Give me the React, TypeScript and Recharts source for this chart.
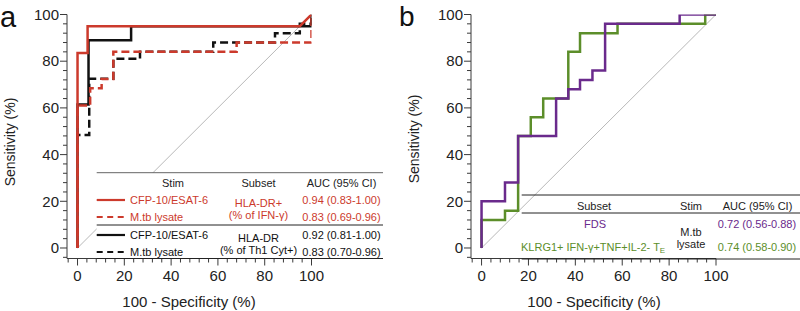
import React from 'react';
import { LineChart, Line, XAxis, YAxis, ReferenceLine } from 'recharts';

// ---------- data ----------
const axisTicks = [-4, 0, 4, 8, 12, 16, 20, 24, 28, 32, 36, 40, 44, 48, 52, 56, 60, 64, 68, 72, 76, 80, 84, 88, 92, 96, 100];
const majorTicks = [0, 20, 40, 60, 80, 100];

// Panel a (100 - specificity, sensitivity)
const aRedSolidX = [0, 0, 4.3, 4.3, 95, 100];
const aRedSolidY = [0, 83.5, 83.5, 95, 95, 100];
const aRedDashX = [0, 0, 5.4, 5.4, 10.3, 10.3, 15.3, 15.3, 68, 68, 100, 100];
const aRedDashY = [0, 61, 61, 68.4, 68.4, 72.4, 72.4, 84, 84, 88, 88, 100];
const aBlackSolidX = [0, 0, 4.7, 4.7, 22.9, 22.9, 100, 100];
const aBlackSolidY = [0, 61.5, 61.5, 89, 89, 95, 95, 100];
const aBlackDashX = [0, 0, 5, 5, 15.3, 15.3, 26.7, 26.7, 58, 58, 84.4, 84.4, 95, 95, 100, 100];
const aBlackDashY = [0, 48.4, 48.4, 72.5, 72.5, 81, 81, 84, 84, 88, 88, 92, 92, 96, 96, 100];

// Panel b
const bPurpleX = [0, 0, 10, 10, 15.6, 15.6, 31.8, 31.8, 37, 37, 42, 42, 47.3, 47.3, 52.7, 52.7, 84.5, 84.5, 100];
const bPurpleY = [0, 20, 20, 28, 28, 48, 48, 64, 64, 68, 68, 72, 72, 76, 76, 96, 96, 100, 100];
const bGreenX = [0, 0, 10, 10, 15.6, 15.6, 21, 21, 26.3, 26.3, 37, 37, 42, 42, 58, 58, 95.4, 95.4, 100];
const bGreenY = [0, 12, 12, 16, 16, 48, 48, 56, 56, 64, 64, 84, 84, 92, 92, 96, 96, 100, 100];

const toPts = (xs: number[], ys: number[]) => xs.map((x, i) => ({ x, y: ys[i] }));

// ---------- styles ----------
const FONT = '"Liberation Sans", Arial, Helvetica, sans-serif';
const AXIS = '#3a3a3a';
const RED = '#cc3a2c';
const BLACK = '#111111';
const PURPLE = '#6a2a8c';
const GREEN = '#5c8e2a';
const DOMAIN: [number, number] = [-4.5, 100];

const XTick = (props: any) => {
  const { x, y, payload } = props;
  const v = payload.value;
  const major = majorTicks.includes(v);
  return (
    <g>
      <line x1={x} y1={y} x2={x} y2={y + (major ? 7 : 4)} stroke={AXIS} strokeWidth={1} />
      {major && (
        <text x={x} y={y + 22} textAnchor="middle" fontSize={15} fill="#222" fontFamily={FONT}>
          {v}
        </text>
      )}
    </g>
  );
};

const YTick = (props: any) => {
  const { x, y, payload } = props;
  const v = payload.value;
  const major = majorTicks.includes(v);
  return (
    <g>
      <line x1={x - (major ? 7 : 4)} y1={y} x2={x} y2={y} stroke={AXIS} strokeWidth={1} />
      {major && (
        <text x={x - 8} y={y + 5.3} textAnchor="end" fontSize={15} fill="#222" fontFamily={FONT}>
          {v}
        </text>
      )}
    </g>
  );
};

function Panel(props: { yAxisWidth: number; right: number; children: React.ReactNode }) {
  return (
    <LineChart
      width={400}
      height={311}
      margin={{ top: 14.5, right: props.right, bottom: 0, left: 0 }}
    >
      <XAxis
        type="number"
        dataKey="x"
        domain={DOMAIN}
        allowDataOverflow
        ticks={axisTicks}
        interval={0}
        tickSize={0}
        tickMargin={0}
        tickLine={false}
        tick={<XTick />}
        height={52.5}
        axisLine={{ stroke: AXIS, strokeWidth: 1 }}
      />
      <YAxis
        type="number"
        dataKey="y"
        domain={DOMAIN}
        allowDataOverflow
        ticks={axisTicks}
        interval={0}
        tickSize={0}
        tickMargin={0}
        tickLine={false}
        tick={<YTick />}
        width={props.yAxisWidth}
        axisLine={{ stroke: AXIS, strokeWidth: 1 }}
      />
      <ReferenceLine
        segment={[{ x: 0, y: 0 }, { x: 100, y: 100 }]}
        stroke="#9a9a9a"
        strokeWidth={0.7}
        ifOverflow="visible"
      />
      {props.children}
    </LineChart>
  );
}

const lineCommon = {
  type: 'linear' as const,
  dataKey: 'y',
  dot: false,
  activeDot: false,
  isAnimationActive: false,
  strokeWidth: 2.5,
  strokeLinejoin: 'miter' as const,
  strokeLinecap: 'butt' as const,
};

export default function App() {
  const txt = { fontFamily: FONT, fontSize: 11 } as const;
  return (
    <div style={{ position: 'absolute', left: 0, top: 0, width: 800, height: 311, background: '#fff', overflow: 'hidden' }}>
      <div style={{ position: 'absolute', left: 0, top: 0 }}>
        <Panel yAxisWidth={67} right={88.5}>
          <Line {...lineCommon} data={toPts(aBlackDashX, aBlackDashY)} stroke={BLACK} strokeDasharray="8 4" />
          <Line {...lineCommon} data={toPts(aBlackSolidX, aBlackSolidY)} stroke={BLACK} />
          <Line {...lineCommon} data={toPts(aRedDashX, aRedDashY)} stroke={RED} strokeDasharray="8 4" />
          <Line {...lineCommon} data={toPts(aRedSolidX, aRedSolidY)} stroke={RED} />
        </Panel>
      </div>
      <div style={{ position: 'absolute', left: 400, top: 0 }}>
        <Panel yAxisWidth={71} right={84}>
          <Line {...lineCommon} data={toPts(bGreenX, bGreenY)} stroke={GREEN} />
          <Line {...lineCommon} data={toPts(bPurpleX, bPurpleY)} stroke={PURPLE} />
        </Panel>
      </div>
      <svg width={800} height={311} style={{ position: 'absolute', left: 0, top: 0, pointerEvents: 'none' }}>
        {/* panel letters */}
        <text x={0} y={27} fontSize={29} fontFamily={FONT} fill="#111">a</text>
        <text x={399} y={26} fontSize={28} fontFamily={FONT} fill="#111">b</text>

        {/* axis titles */}
        <text transform="translate(14.5,142) rotate(-90)" textAnchor="middle" fontSize={14} fontFamily={FONT} fill="#222">Sensitivity (%)</text>
        <text x={189} y={307} textAnchor="middle" fontSize={15} fontFamily={FONT} fill="#222">100 - Specificity (%)</text>
        <text transform="translate(419,139) rotate(-90)" textAnchor="middle" fontSize={14} fontFamily={FONT} fill="#222">Sensitivity (%)</text>
        <text x={594} y={307} textAnchor="middle" fontSize={15} fontFamily={FONT} fill="#222">100 - Specificity (%)</text>

        {/* panel a table */}
        <rect x={96.7} y={173} width={287} height={85} fill="#fff" />
        <line x1={96.7} y1={172.7} x2={383} y2={172.7} stroke="#666" strokeWidth={1} />
        <line x1={96.7} y1={225} x2={383} y2={225} stroke="#222" strokeWidth={1} />
        <line x1={96.7} y1={258.5} x2={383} y2={258.5} stroke="#222" strokeWidth={1} />
        <text {...txt} x={173} y={186.7} textAnchor="middle" fill="#222">Stim</text>
        <text {...txt} x={258.5} y={186.7} textAnchor="middle" fill="#222">Subset</text>
        <text {...txt} x={341.5} y={186.7} textAnchor="middle" fill="#222">AUC (95% CI)</text>

        <line x1={96.7} y1={200} x2={125} y2={200} stroke={RED} strokeWidth={2.2} />
        <text {...txt} x={130} y={204} fill={RED}>CFP-10/ESAT-6</text>
        <text {...txt} x={341.5} y={204} textAnchor="middle" fill={RED}>0.94 (0.83-1.00)</text>
        <line x1={96.7} y1={217} x2={125} y2={217} stroke={RED} strokeWidth={2.2} strokeDasharray="6 4.5" />
        <text {...txt} x={130} y={221.3} fill={RED}>M.tb lysate</text>
        <text {...txt} x={341.5} y={221.3} textAnchor="middle" fill={RED}>0.83 (0.69-0.96)</text>
        <text {...txt} x={258.5} y={206.7} textAnchor="middle" fill={RED}>HLA-DR+</text>
        <text {...txt} x={258.5} y={219} textAnchor="middle" fill={RED}>(% of IFN-γ)</text>

        <line x1={96.7} y1={235} x2={125} y2={235} stroke={BLACK} strokeWidth={2.2} />
        <text {...txt} x={130} y={239} fill="#111">CFP-10/ESAT-6</text>
        <text {...txt} x={341.5} y={239} textAnchor="middle" fill="#111">0.92 (0.81-1.00)</text>
        <line x1={96.7} y1={252} x2={125} y2={252} stroke={BLACK} strokeWidth={2.2} strokeDasharray="6 4.5" />
        <text {...txt} x={130} y={255.7} fill="#111">M.tb lysate</text>
        <text {...txt} x={341.5} y={255.7} textAnchor="middle" fill="#111">0.83 (0.70-0.96)</text>
        <text {...txt} x={258.5} y={241.5} textAnchor="middle" fill="#111">HLA-DR</text>
        <text {...txt} x={258.5} y={253.5} textAnchor="middle" fill="#111">(% of Th1 Cyt+)</text>

        {/* panel b table */}
        <line x1={521.7} y1={195} x2={800} y2={195} stroke="#222" strokeWidth={1} />
        <line x1={521.7} y1={213} x2={800} y2={213} stroke="#222" strokeWidth={1} />
        <line x1={521.7} y1={259} x2={800} y2={259} stroke="#222" strokeWidth={1} />
        <text {...txt} x={594} y={210} textAnchor="middle" fill="#222">Subset</text>
        <text {...txt} x={691} y={210} textAnchor="middle" fill="#222">Stim</text>
        <text {...txt} x={757.5} y={210} textAnchor="middle" fill="#222">AUC (95% CI)</text>
        <text {...txt} x={595} y={228} textAnchor="middle" fill={PURPLE}>FDS</text>
        <text {...txt} x={757} y={228} textAnchor="middle" fill={PURPLE}>0.72 (0.56-0.88)</text>
        <text {...txt} x={521} y={250.5} fill={GREEN}>
          KLRG1+ IFN-γ+TNF+IL-2- T<tspan fontSize={8} dy={2}>E</tspan>
        </text>
        <text {...txt} x={691} y={235.7} textAnchor="middle" fill="#222">M.tb</text>
        <text {...txt} x={691} y={248.3} textAnchor="middle" fill="#222">lysate</text>
        <text {...txt} x={757} y={250.5} textAnchor="middle" fill={GREEN}>0.74 (0.58-0.90)</text>
      </svg>
    </div>
  );
}
